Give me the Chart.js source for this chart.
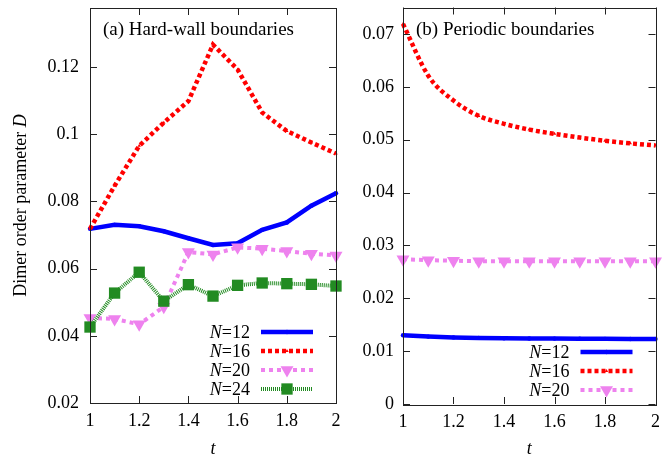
<!DOCTYPE html>
<html lang="en">
<head>
<meta charset="UTF-8">
<title>Dimer order parameter</title>
<script src="https://cdn.jsdelivr.net/npm/chart.js@4.4.0/dist/chart.umd.min.js"></script>
<style>
  html, body { margin: 0; padding: 0; background: #fff; }
  #wrap { position: relative; width: 663px; height: 461px; }
  canvas { position: absolute; top: 0; }
  #hw { left: 0; }
  #pb { left: 350px; }
</style>
</head>
<body>
<div id="wrap">
  <canvas id="hw" width="350" height="461"></canvas>
  <canvas id="pb" width="313" height="461"></canvas>
</div>
<script>
// temperatures
const tValues = [1.0, 1.1, 1.2, 1.3, 1.4, 1.5, 1.6, 1.7, 1.8, 1.9, 2.0];

// (a) hard-wall boundaries
const hw12 = [0.0718, 0.0730, 0.0726, 0.0711, 0.0690, 0.0670, 0.0675, 0.0715, 0.0737, 0.0787, 0.0824];
const hw16 = [0.0718, 0.0846, 0.0965, 0.1034, 0.1098, 0.1266, 0.1192, 0.1064, 0.1009, 0.0975, 0.0942];
const hw20 = [0.0453, 0.0450, 0.0434, 0.0486, 0.0649, 0.0642, 0.0663, 0.0659, 0.0652, 0.0644, 0.0639];
const hw24 = [0.0426, 0.0527, 0.0589, 0.0503, 0.0552, 0.0518, 0.0550, 0.0557, 0.0555, 0.0553, 0.0548];

// (b) periodic boundaries
const pb12 = [0.0130, 0.01275, 0.0126, 0.0125, 0.01245, 0.0124, 0.01237, 0.01235, 0.01232, 0.0123, 0.0123];
const pb16 = [0.0719, 0.0621, 0.0574, 0.0545, 0.0530, 0.0519, 0.0511, 0.0504, 0.0498, 0.0493, 0.0489];
const pb20 = [0.0274, 0.0272, 0.0271, 0.0270, 0.0270, 0.0270, 0.0270, 0.0270, 0.0270, 0.0270, 0.0270];

// tick labels
const xTicks = [1, 1.2, 1.4, 1.6, 1.8, 2];
const yTicksHW = [0.02, 0.04, 0.06, 0.08, 0.1, 0.12];
const yTicksPB = [0, 0.01, 0.02, 0.03, 0.04, 0.05, 0.06, 0.07];

const FONT = '"Liberation Serif", "Times New Roman", serif';

// line / point looks, gnuplot style
const looks = {
  12: { borderColor: '#0000ff', borderWidth: 4.5, borderDash: [], pointStyle: 'circle', pointRadius: 2.2, rotation: 0 },
  16: { borderColor: '#ff0000', borderWidth: 4.5, borderDash: [4, 3], pointStyle: 'triangle', pointRadius: 2, rotation: 0 },
  20: { borderColor: '#ee82ee', borderWidth: 4, borderDash: [4, 4], pointStyle: 'triangle', pointRadius: 7.5, rotation: 180 },
  24: { borderColor: '#228b22', borderWidth: 4, borderDash: [1, 1], pointStyle: 'rect', pointRadius: 8, rotation: 0 }
};

function makeSet(n, values, idx, count) {
  const lk = looks[n];
  return {
    label: 'N=' + n,
    data: tValues.map((t, i) => ({ x: t, y: values[i] })),
    borderColor: lk.borderColor,
    backgroundColor: lk.borderColor,
    borderWidth: lk.borderWidth,
    borderDash: lk.borderDash,
    pointStyle: lk.pointStyle,
    pointRadius: lk.pointRadius,
    pointRotation: lk.rotation,
    pointBackgroundColor: lk.borderColor,
    pointBorderWidth: 0,
    pointHoverRadius: lk.pointRadius,
    tension: 0,
    clip: false,
    order: count - idx
  };
}

// frame, inward ticks, panel title, y title and legend
const gnuplotLook = {
  id: 'gnuplotLook',
  afterDraw(chart, args, opts) {
    const { ctx, chartArea: a, scales: { x, y } } = chart;
    ctx.save();
    ctx.strokeStyle = '#222';
    ctx.lineWidth = 1;
    ctx.setLineDash([]);
    ctx.beginPath();
    x.ticks.forEach(t => {
      const px = Math.round(x.getPixelForValue(t.value)) + 0.5;
      ctx.moveTo(px, a.bottom); ctx.lineTo(px, a.bottom - 7);
      ctx.moveTo(px, a.top); ctx.lineTo(px, a.top + 7);
    });
    y.ticks.forEach(t => {
      const py = Math.round(y.getPixelForValue(t.value)) + 0.5;
      ctx.moveTo(a.left, py); ctx.lineTo(a.left + 7, py);
      ctx.moveTo(a.right, py); ctx.lineTo(a.right - 7, py);
    });
    ctx.stroke();
    ctx.strokeRect(Math.round(a.left) + 0.5, Math.round(a.top) + 0.5, Math.round(a.width), Math.round(a.height));

    ctx.fillStyle = '#000';
    ctx.textBaseline = 'alphabetic';
    ctx.textAlign = 'left';
    ctx.font = '19px ' + FONT;
    ctx.fillText(opts.title, a.left + 13, 35);

    if (opts.yTitle) {
      ctx.save();
      ctx.translate(26, (a.top + a.bottom) / 2);
      ctx.rotate(-Math.PI / 2);
      ctx.font = '18px ' + FONT;
      const w1 = ctx.measureText('Dimer order parameter ').width;
      ctx.font = 'italic 18px ' + FONT;
      const w2 = ctx.measureText('D').width;
      let sx = -(w1 + w2) / 2;
      ctx.font = '18px ' + FONT;
      ctx.fillText('Dimer order parameter ', sx, 0);
      ctx.font = 'italic 18px ' + FONT;
      ctx.fillText('D', sx + w1, 0);
      ctx.restore();
    }

    // legend: text then sample, bottom right
    const sets = chart.data.datasets;
    const n = sets.length;
    sets.forEach((ds, i) => {
      const ry = a.bottom - 14 - (n - 1 - i) * 19;
      const tx = a.right - 86;
      const parts = ds.label.split('=');
      ctx.textBaseline = 'middle';
      ctx.textAlign = 'right';
      ctx.fillStyle = '#000';
      ctx.font = '18px ' + FONT;
      const rest = '=' + parts[1];
      const wr = ctx.measureText(rest).width;
      ctx.fillText(rest, tx, ry + 1);
      ctx.font = 'italic 18px ' + FONT;
      ctx.fillText(parts[0], tx - wr, ry + 1);

      ctx.strokeStyle = ds.borderColor;
      ctx.lineWidth = ds.borderWidth;
      ctx.setLineDash(ds.borderDash);
      ctx.beginPath();
      ctx.moveTo(a.right - 75, ry);
      ctx.lineTo(a.right - 23, ry);
      ctx.stroke();
      ctx.setLineDash([]);
      ctx.fillStyle = ds.borderColor;
      Chart.helpers.drawPoint(ctx, {
        pointStyle: ds.pointStyle, rotation: ds.pointRotation,
        radius: ds.pointRadius, borderWidth: 0
      }, a.right - 49, ry);
    });
    ctx.restore();
  }
};

function makeChart(id, sets, yMin, yMax, yTicks, opts) {
  return new Chart(document.getElementById(id), {
    type: 'line',
    data: { datasets: sets },
    options: {
      responsive: false,
      animation: false,
      devicePixelRatio: 1,
      layout: { padding: { top: 7, right: opts.padRight, left: 0, bottom: 0 } },
      plugins: {
        legend: { display: false },
        tooltip: { enabled: false },
        gnuplotLook: { title: opts.title, yTitle: opts.yTitle }
      },
      scales: {
        x: {
          type: 'linear', min: 1, max: 2,
          grid: { display: false, drawTicks: false },
          border: { display: false },
          afterBuildTicks: s => { s.ticks = xTicks.map(v => ({ value: v })); },
          afterFit: s => { s.height = opts.xHeight; s.paddingLeft = 0; s.paddingRight = 0; },
          ticks: {
            padding: 7, color: '#000', maxRotation: 0, autoSkip: false,
            font: { family: FONT, size: 18 },
            callback: v => String(v)
          },
          title: {
            display: true, text: 't', color: '#000',
            font: { family: FONT, size: 18, style: 'italic' },
            padding: { top: 0, bottom: 1 }
          }
        },
        y: {
          type: 'linear', min: yMin, max: yMax,
          grid: { display: false, drawTicks: false },
          border: { display: false },
          afterBuildTicks: s => { s.ticks = yTicks.map(v => ({ value: v })); },
          afterFit: s => { s.width = opts.yWidth; s.paddingTop = 0; s.paddingBottom = 0; },
          ticks: {
            padding: opts.yPad, color: '#000', autoSkip: false,
            font: { family: FONT, size: 18 },
            callback: v => String(v)
          }
        }
      }
    },
    plugins: [gnuplotLook]
  });
}

const hwSets = [
  makeSet(12, hw12, 0, 4), makeSet(16, hw16, 1, 4),
  makeSet(20, hw20, 2, 4), makeSet(24, hw24, 3, 4)
];
const pbSets = [
  makeSet(12, pb12, 0, 3), makeSet(16, pb16, 1, 3), makeSet(20, pb20, 2, 3)
];
pbSets[1].cubicInterpolationMode = 'monotone';

makeChart('hw', hwSets, 0.02, 0.1375, yTicksHW,
  { title: '(a) Hard-wall boundaries', yTitle: true, padRight: 14, xHeight: 58, yWidth: 90, yPad: 11 });
makeChart('pb', pbSets, 0, 0.075, yTicksPB,
  { title: '(b) Periodic boundaries', yTitle: false, padRight: 6, xHeight: 57, yWidth: 53, yPad: 9 });
</script>
</body>
</html>
